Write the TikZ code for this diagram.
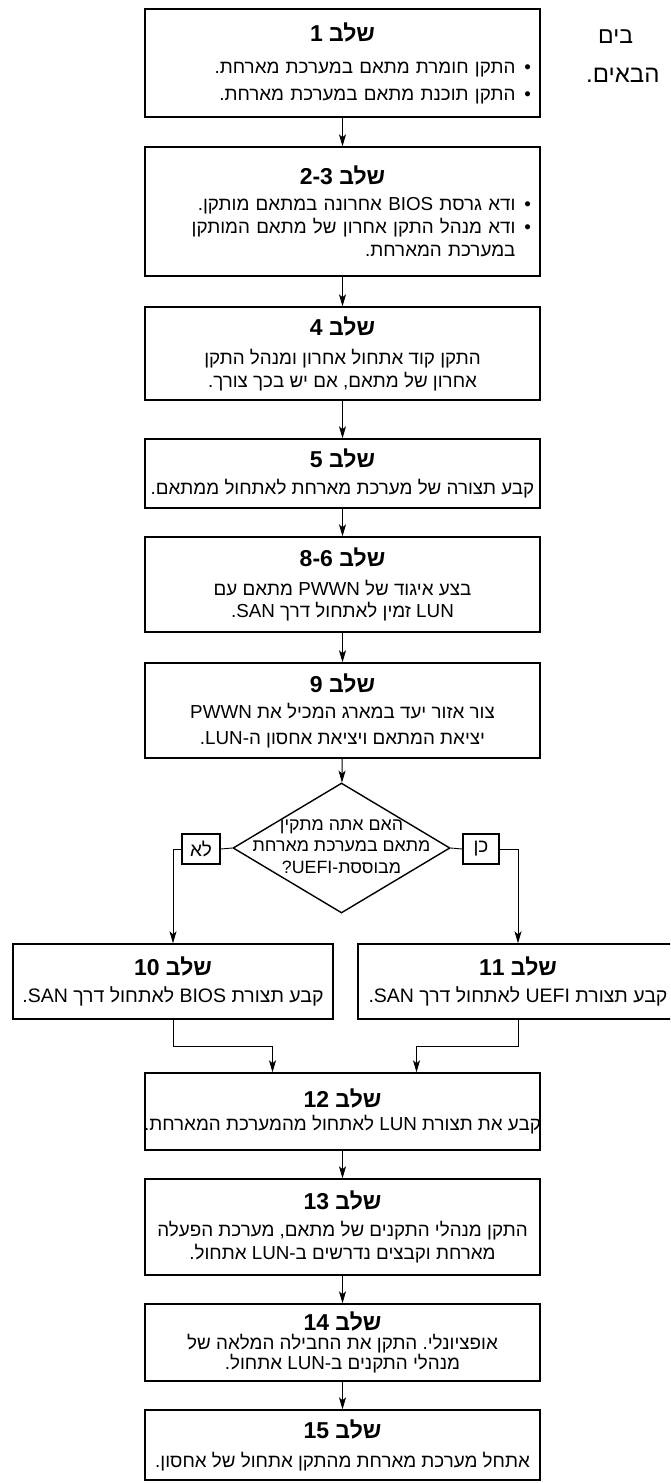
\documentclass[tikz,border=0pt]{standalone}
\usepackage{fontspec}
\setmainfont{Liberation Sans}[Script=Hebrew]
\TeXXeTstate=1
\usetikzlibrary{arrows.meta,shapes.geometric}

\newcommand{\rl}[1]{\beginR#1\endR}
\newcommand{\rdot}{\hbox{.}}
\newcommand{\rcomma}{\hbox{,}}
\newcommand{\rhyph}{\hbox{-}}
\newcommand{\rquest}{\hbox{?}}
\newcommand{\steptitle}[1]{{\fontsize{23}{26}\selectfont\bfseries\rl{שלב #1}}}
\newcommand{\bul}{\textbullet\hspace{9pt}}

\begin{document}
\begin{tikzpicture}[x=1pt,y=-1pt,
    stepbox/.style={draw,line width=1.4pt,minimum width=395pt,inner sep=0pt,align=center,font=\fontsize{18.8}{23}\selectfont},
    answer/.style={draw,line width=1.4pt,inner sep=0pt,minimum height=30pt,font=\fontsize{19}{23}\selectfont},
    decide/.style={draw,diamond,line width=1.4pt,inner sep=0pt,minimum width=217pt,minimum height=130pt,font=\fontsize{17.8}{21.5}\selectfont},
    flow/.style={line width=0.9pt,-{Stealth[length=12pt,width=7pt,inset=3pt]}},
    link/.style={line width=0.9pt}]
	\useasboundingbox (0,0) rectangle (670,1483);
	\clip (0,0) rectangle (670,1483);
	\fill[white] (0,0) rectangle (670,1483);

	% page text behind the chart
	\node[font=\fontsize{23}{26}\selectfont,anchor=west,inner sep=0pt] (frag1) at (598,37) {\rl{בים}};
	\node[font=\fontsize{24}{26}\selectfont,anchor=west,inner sep=0pt] (frag2) at (586,75) {\rl{הבאים\rdot}};

	\node[stepbox,text width=377pt,minimum height=108pt] (b1) at (342.5,63) {\steptitle{1}\\[9pt]
		\hspace*{\fill}\rl{\bul התקן חומרת מתאם במערכת מארחת\rdot}\\[4pt]
		\hspace*{\fill}\rl{\bul התקן תוכנת מתאם במערכת מארחת\rdot}};
	\node[stepbox,text width=377pt,minimum height=129pt] (b2) at (342.5,211.5) {\steptitle{2-3}\\[3pt]
		\hspace*{\fill}\rl{\bul ודא גרסת BIOS אחרונה במתאם מותקן\rdot}\\
		\hspace*{\fill}\rl{\bul ודא מנהל התקן אחרון של מתאם המותקן}\\
		\hspace*{\fill}\rl{\phantom{\bul}במערכת המארחת\rdot}};
	\node[stepbox,minimum height=93pt] (b3) at (342.5,353.5) {\steptitle{4}\\[6pt]
		\rl{התקן קוד אתחול אחרון ומנהל התקן}\\
		\rl{אחרון של מתאם\rcomma{} אם יש בכך צורך\rdot}};
	\node[stepbox,minimum height=69pt] (b4) at (342.5,473.5) {\steptitle{5}\\[4pt]
		\makebox[389pt]{\rl{קבע תצורה של מערכת מארחת לאתחול ממתאם\rdot}}};
	\node[stepbox,minimum height=95pt] (b5) at (342.5,584.5) {\steptitle{8-6}\\[6pt]
		\rl{בצע איגוד של PWWN מתאם עם}\\[-1pt]
		\rl{LUN זמין לאתחול דרך SAN\rdot}};
	\node[stepbox,minimum height=95pt] (b6) at (342.5,710.5) {\steptitle{9}\\[3pt]
		\rl{צור אזור יעד במארג המכיל את PWWN}\\[3pt]
		\rl{יציאת המתאם ויציאת אחסון ה\rhyph LUN\rdot}};

	\node[decide] (dec) at (341.5,848) {\raisebox{-8pt}{\smash{\makebox[0pt]{\begin{tabular}{@{}c@{}}
		\rl{האם אתה מתקין}\\
		\rl{מתאם במערכת מארחת}\\
		\rl{מבוססת\rhyph UEFI\rquest}\end{tabular}}}}};
	\node[answer,minimum width=38pt] (no) at (201,849) {\rl{לא}};
	\node[answer,minimum width=36pt] (yes) at (481,849) {\rl{כן}};

	\node[stepbox,font=\fontsize{19.5}{23}\selectfont,minimum width=320pt,minimum height=75pt] (b10) at (173,981.5) {\steptitle{10}\\[4pt]
		\rl{קבע תצורת BIOS לאתחול דרך SAN\rdot}};
	% right box runs past the page edge
	\node[stepbox,font=\fontsize{19.5}{23}\selectfont,minimum width=340pt,minimum height=75pt] (b11) at (528,981.5) {\steptitle{11}\hspace*{20pt}\\[4pt]
		\rl{קבע תצורת UEFI לאתחול דרך SAN\rdot}\hspace*{20pt}};

	\node[stepbox,minimum height=77pt] (b12) at (342.5,1111.5) {\steptitle{12}\\[0pt]
		\makebox[389pt]{\rl{קבע את תצורת LUN לאתחול מהמערכת המארחת\rdot}}};
	\node[stepbox,minimum height=96pt] (b13) at (342.5,1227) {\steptitle{13}\\[4pt]
		\rl{התקן מנהלי התקנים של מתאם\rcomma{} מערכת הפעלה}\\
		\rl{מארחת וקבצים נדרשים ב\rhyph LUN אתחול\rdot}};
	\node[stepbox,minimum height=77pt] (b14) at (342.5,1342.5) {\steptitle{14}\\[-4pt]
		\rl{אופציונלי\rdot{} התקן את החבילה המלאה של}\\[-3pt]
		\rl{מנהלי התקנים ב\rhyph LUN אתחול\rdot}};
	\node[stepbox,minimum height=70pt] (b15) at (342.5,1445) {\raisebox{-2pt}{\steptitle{15}}\\[8pt]
		\rl{אתחל מערכת מארחת מהתקן אתחול של אחסון\rdot}};

	\draw[flow] (b1) -- (b2);
	\draw[flow] (b2) -- (b3);
	\draw[flow] (b3) -- (b4);
	\draw[flow] (b4) -- (b5);
	\draw[flow] (b5) -- (b6);
	\draw[flow] (b6) -- (dec);
	\draw[link] (dec.west) -- (no.east);
	\draw[link] (dec.east) -- (yes.west);
	\draw[flow] (no.west) -| (b10.north);
	\draw[flow] (yes.east) -| ([xshift=-10pt]b11.north);
	\draw[flow] (b10.south) -- ++(0,27) -| ([xshift=-70pt]b12.north);
	\draw[flow] ([xshift=-10pt]b11.south) -- ++(0,27) -| ([xshift=74pt]b12.north);
	\draw[flow] (b12) -- (b13);
	\draw[flow] (b13) -- (b14);
	\draw[flow] (b14) -- (b15);
\end{tikzpicture}
\end{document}
